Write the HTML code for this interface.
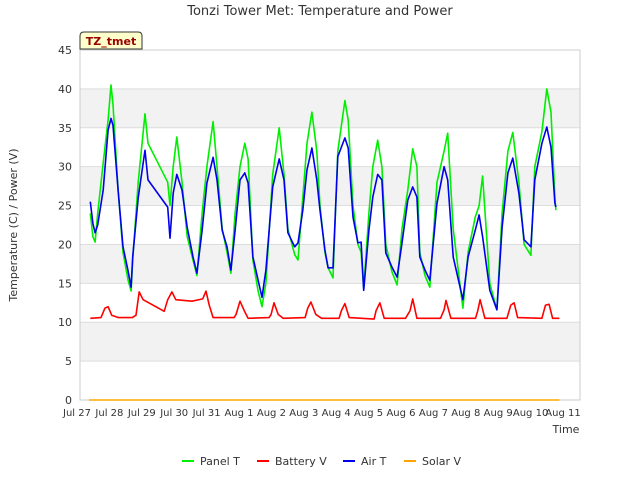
<!DOCTYPE html>
<html><head><meta charset="utf-8"><style>
body{margin:0;background:#fff;font-family:"Liberation Sans","DejaVu Sans",sans-serif}
svg text{font-family:"DejaVu Sans","Liberation Sans",sans-serif}
</style></head><body>
<svg id="c" width="640" height="480" xmlns="http://www.w3.org/2000/svg"></svg>
<script>
const tickLabels=["Jul 27","Jul 28","Jul 29","Jul 30","Jul 31","Aug 1","Aug 2","Aug 3","Aug 4","Aug 5","Aug 6","Aug 7","Aug 8","Aug 9","Aug 10","Aug 11"];
const yTicks=[0,5,10,15,20,25,30,35,40,45];
const tempTimes=[0.41,0.49,0.56,0.64,0.81,0.96,1.05,1.11,1.27,1.42,1.57,1.67,1.72,1.89,2.10,2.19,2.80,2.87,2.97,3.08,3.24,3.40,3.58,3.70,3.86,4.01,4.20,4.32,4.48,4.63,4.75,4.88,5.03,5.18,5.28,5.43,5.59,5.71,5.83,6.04,6.24,6.39,6.51,6.72,6.82,6.97,7.10,7.25,7.40,7.50,7.65,7.75,7.90,8.05,8.27,8.37,8.52,8.67,8.77,8.85,9.01,9.13,9.28,9.41,9.53,9.72,9.88,10.03,10.21,10.36,10.49,10.58,10.74,10.89,11.11,11.33,11.44,11.61,11.91,12.07,12.29,12.41,12.52,12.74,12.96,13.12,13.30,13.45,13.64,13.80,14.01,14.13,14.35,14.50,14.63,14.75,14.78];
const airT=[25.5,22.7,21.5,22.5,27,34.7,36.2,35.3,27,19.7,16.7,14.5,18.4,26,32.1,28.3,24.8,20.8,26.6,29,27,22.2,18.4,16.3,21.8,27.9,31.2,28.3,21.8,19.7,16.7,21.8,28.3,29.2,27.9,18.4,15.4,13.2,16.7,27.4,31,28.3,21.5,19.7,20.2,24.4,29.6,32.4,28.3,24.4,19.3,17,17,31.3,33.7,32.4,23.5,20.2,20.3,14.1,21.8,26.1,29,28.3,18.9,17.1,15.8,20.2,25.7,27.4,26.1,18.4,16.7,15.4,25.3,30,28.3,18.4,12.9,18.4,21.8,23.8,21,14.1,11.6,22.2,29.2,31.1,26.6,20.6,19.7,28.3,33,35.1,32.5,25.3,24.8];
const panelT=[24,21,20.3,24,30.5,36,40.5,38,27,19,15.5,14,18,28,36.8,33,28,25,30,33.8,28,21,18,16,24,30,35.8,30,22,19,16.3,24,30,33,31,18,14,12,15,29,35,29,22,18.7,18,26,33,37,32,25,19,17,15.7,32,38.5,36,25,20,19,14.3,24,30,33.4,30,20,16.5,14.8,22,27,32.3,30,19,16,14.5,28,32,34.3,22,11.8,19,23.5,25,28.8,15,11.6,24,32,34.4,28,20,18.6,30,34.5,40,37,26,24.4];
const battTimes=[0.41,0.74,0.86,0.96,1.07,1.28,1.71,1.82,1.92,2.04,2.69,2.80,2.93,3.05,3.55,3.88,3.98,4.08,4.20,4.85,4.91,5.03,5.16,5.28,5.93,5.99,6.08,6.21,6.36,7.04,7.12,7.22,7.37,7.55,8.09,8.16,8.27,8.40,9.17,9.23,9.35,9.48,10.14,10.28,10.36,10.49,11.22,11.33,11.39,11.54,12.30,12.37,12.44,12.59,13.27,13.39,13.49,13.60,14.35,14.46,14.57,14.68,14.89];
const battV=[10.5,10.6,11.8,12,10.9,10.6,10.6,10.9,13.9,12.9,11.4,12.9,13.9,12.9,12.7,13,14,12.2,10.6,10.6,11,12.7,11.5,10.5,10.6,11,12.5,11,10.5,10.6,11.8,12.6,11,10.5,10.5,11.5,12.4,10.6,10.4,11.5,12.5,10.5,10.5,11.5,13,10.5,10.5,11.6,12.8,10.5,10.5,11.5,12.9,10.5,10.5,12.2,12.5,10.6,10.5,12.2,12.3,10.5,10.5];
const solarTimes=[0.37,14.89];
const solarV=[0,0];

const NS="http://www.w3.org/2000/svg";
const svg=document.getElementById('c');
const L=80,R=580,T=50,B=400;
const X0=77,DX=32.4;
function xs(d){return X0+d*DX;}
function ys(v){return B-(v/45)*(B-T);}
function el(tag,attrs,parent){const e=document.createElementNS(NS,tag);for(const k in attrs)e.setAttribute(k,attrs[k]);(parent||svg).appendChild(e);return e;}

let t=el('text',{x:320,y:15,'text-anchor':'middle','font-size':13,fill:'#333'});t.textContent='Tonzi Tower Met: Temperature and Power';



let bg=el('rect',{x:L,y:T,width:R-L,height:B-T,fill:'#fff',stroke:'#ccc'});


for(let i=0;i<yTicks.length-1;i++){
  if(i%2===1){let b=el('rect',{x:L,y:ys(yTicks[i+1]),width:R-L,height:ys(yTicks[i])-ys(yTicks[i+1]),fill:'#f2f2f2'});
  
  }
}
yTicks.forEach(v=>{
  let g=el('line',{x1:L,x2:R,y1:ys(v),y2:ys(v),stroke:'#ddd'});
  
  
  let tx=el('text',{x:72,y:ys(v)+4,'text-anchor':'end','font-size':11,fill:'#333'});tx.textContent=v;
  
  
});
el('rect',{x:L,y:T,width:R-L,height:B-T,fill:'none',stroke:'#ccc'});
tickLabels.forEach((s,i)=>{
  let tx=el('text',{x:xs(i),y:416,'text-anchor':'middle','font-size':10,fill:'#333'});tx.textContent=s;
  
  
});
let xt=el('text',{x:566,y:433,'text-anchor':'middle','font-size':11,fill:'#333'});xt.textContent='Time';


let yt=el('text',{x:17,y:225,'text-anchor':'middle','font-size':11,fill:'#333',transform:'rotate(-90 17 225)'});yt.textContent='Temperature (C) / Power (V)';



function line(times,vals,color,name){
  const d=times.map((tm,i)=>(i?'L':'M')+xs(tm).toFixed(1)+','+ys(vals[i]).toFixed(1)).join('');
  let p=el('path',{d:d,fill:'none',stroke:color,'stroke-width':1.6,'stroke-linejoin':'round'});
  
  
}
line(solarTimes,solarV,'#ffa500','solar-v-line');
line(battTimes,battV,'#ff0000','battery-v-line');
line(tempTimes,panelT,'#00ee00','panel-t-line');
line(tempTimes,airT,'#0000ee','air-t-line');

let tag=el('g',{});


el('path',{d:'M80,49 L80,36 Q80,32 84,32 L138,32 Q142,32 142,36 L142,49 Z',fill:'#ffffcc',stroke:'#333'},tag);
let tt=el('text',{x:111,y:45,'text-anchor':'middle','font-size':11,'font-weight':'bold',fill:'#990000'},tag);tt.textContent='TZ_tmet';

const legend=[['Panel T','#00ee00',182],['Battery V','#ff0000',257],['Air T','#0000ee',343],['Solar V','#ffa500',404]];
legend.forEach(([n,c,x])=>{
  let g=el('g',{});
  
  
  el('line',{x1:x,x2:x+12,y1:461,y2:461,stroke:c,'stroke-width':2},g);
  let lt=el('text',{x:x+18,y:465,'font-size':11,fill:'#333'},g);lt.textContent=n;
});
</script>
</body></html>
